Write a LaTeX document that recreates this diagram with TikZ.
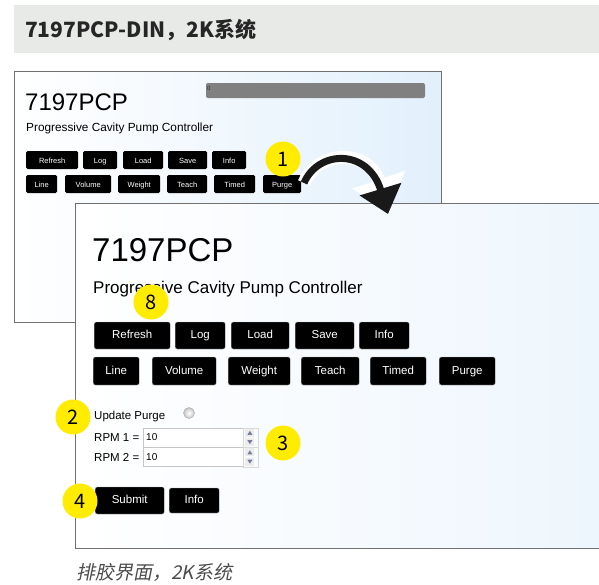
\documentclass[tikz,border=0pt]{standalone}
\usepackage{fontspec}
\setmainfont{Liberation Sans}
\newfontfamily\cjkfont{Noto Sans CJK SC}
\newfontfamily\cjkslant{Noto Sans CJK SC}[FakeSlant=0.2]
\usetikzlibrary{arrows.meta}
\definecolor{barback}{RGB}{232,234,232}
\definecolor{sky}{RGB}{226,240,252}
\definecolor{badge}{RGB}{255,236,0}
\definecolor{frame}{RGB}{112,112,112}
\definecolor{spin}{RGB}{120,125,160}

\begin{document}
\begin{tikzpicture}[x=1pt, y=-1pt]
        \tikzset{>={Triangle[length=26pt,width=42pt]}}
        \tikzset{
          win/.style={draw=frame, line width=0.8pt, left color=white, right color=sky},
          smallbtn/.style={fill=black, text=white, rounded corners=1.5pt, inner sep=0pt,
            anchor=west, minimum height=18pt, text height=1.6ex, text depth=0.3ex,
            font=\fontsize{7.5}{8}\selectfont},
          bigbtn/.style={fill=black, draw=gray!60, text=white, rounded corners=2pt, inner sep=0pt,
            anchor=west, minimum height=27pt, text height=1.6ex, text depth=0.3ex,
            font=\fontsize{11.5}{12}\selectfont},
          badgenode/.style={circle, fill=badge, minimum size=35pt, inner sep=0pt,
            font=\cjkfont\fontsize{20}{20}\selectfont},
          txt/.style={anchor=west, inner sep=0pt},
          inbox/.style={draw=gray!45, fill=white, anchor=west, minimum width=100pt,
            minimum height=19pt, inner sep=0pt}
        }
        \useasboundingbox (0,0) rectangle (599,584);

	% title bar
	\fill[barback] (14,5) rectangle (599,53);
	\node[txt, text=black!85] (title) at (25,30)
	    {\cjkfont\bfseries\fontsize{21}{21}\selectfont 7197PCP-DIN，2K系统};

	% screen behind
	\draw[win] (14,71) rectangle (441,322);
	\fill[black!50, rounded corners=2pt] (206,83) rectangle (425,98);
	\node[txt, text=black!80, font=\fontsize{6}{6}\selectfont] (bar) at (207,88) {0};
	\node[txt, font=\fontsize{24}{24}\selectfont] (bk-head) at (25,102) {7197PCP};
	\node[txt, font=\fontsize{11.8}{12}\selectfont] (bk-sub) at (26,128)
	    {Progressive Cavity Pump Controller};
	\foreach \name/\xa/\w in {Refresh/26/52, Log/83/34, Load/123/40, Save/168/39, Info/212/34} {
	    \node[smallbtn, minimum width=\w pt] (bk-\name) at (\xa,160) {\name};
	    }
	\foreach \name/\xa/\w in {Line/26/31, Volume/65/46, Weight/118/42, Teach/167/40, Timed/214/41, Purge/263/38} {
	    \node[smallbtn, minimum width=\w pt] (bk-\name) at (\xa,184) {\name};
	    }
	\node[badgenode] (n1) at (283,159) {1};

	% screen in front
	\draw[win, right color=sky!60] (75,203) rectangle (605,548);
	\node[txt, font=\fontsize{33}{33}\selectfont] (fr-head) at (92,250) {7197PCP};
	\node[txt, font=\fontsize{17}{17}\selectfont] (fr-sub) at (93,289)
	    {Progressive Cavity Pump Controller};
	\foreach \name/\xa/\w in {Refresh/94/76, Log/175/50, Load/231/58, Save/295/59, Info/359/50} {
	    \node[bigbtn, minimum width=\w pt] (fr-\name) at (\xa,335.5) {\name};
	    }
	\foreach \name/\xa/\w in {Line/93/46, Volume/152/64, Weight/228/62, Teach/301/58, Timed/370/56, Purge/439/56} {
	    \node[bigbtn, minimum width=\w pt, minimum height=28pt] (fr-\name) at (\xa,371) {\name};
	    }
	\node[badgenode] (n8) at (151,302) {8};

	% purge settings
	\node[txt, font=\fontsize{11.5}{12}\selectfont] (upd) at (94,417) {Update Purge};
	\node[circle, draw=gray!70, inner color=white, outer color=gray!45, minimum size=11pt,
	    inner sep=0pt] (radio) at (189,413) {};
	\foreach \i/\y in {1/437.5, 2/457} {
	    \node[txt, font=\fontsize{11.5}{12}\selectfont] (rpm\i) at (94,\y) {RPM \i\ =};
	    \node[inbox] (in\i) at (143,\y) {};
	    \node[txt, font=\fontsize{10}{10}\selectfont] (val\i) at ([xshift=3pt]in\i.west) {10};
	    \draw[gray!30] (in\i.north east) rectangle ([xshift=15pt]in\i.south east);
	    \fill[gray!15] ([xshift=2pt,yshift=-1pt]in\i.north east) rectangle ([xshift=11pt,yshift=-9pt]in\i.north east);
	    \fill[gray!15] ([xshift=2pt,yshift=1pt]in\i.south east) rectangle ([xshift=11pt,yshift=9pt]in\i.south east);
	    \fill[spin] ([xshift=4pt,yshift=-7pt]in\i.north east) -- ([xshift=9pt,yshift=-7pt]in\i.north east)
	        -- ([xshift=6.5pt,yshift=-3pt]in\i.north east) -- cycle;
	    \fill[spin] ([xshift=4pt,yshift=7pt]in\i.south east) -- ([xshift=9pt,yshift=7pt]in\i.south east)
	        -- ([xshift=6.5pt,yshift=3pt]in\i.south east) -- cycle;
	    }
	\node[badgenode] (n2) at (73,417) {2};
	\node[badgenode] (n3) at (283,443) {3};

	\node[bigbtn, minimum width=69pt, draw=gray!70] (submit) at (95,500.5) {Submit};
	\node[bigbtn, minimum width=50pt, minimum height=25pt] (fr-info2) at (169,500.5) {Info};
	\node[badgenode] (n4) at (80,501) {4};

	% arrow from purge to the front screen
	\coordinate (arrowfrom) at (304,183);
	\coordinate (arrowto) at (388,214);
	\draw[white, line width=13pt, -{Triangle[length=33pt,width=54pt]}]
	    (arrowfrom) .. controls (318,150) and (368,148) .. ([shift={(1pt,3pt)}]arrowto);
	\draw[black!90, line width=7pt, ->]
	    (arrowfrom) .. controls (318,150) and (368,148) .. (arrowto);

	% caption
	\node[txt, text=black!70] (caption) at (76,572)
	    {\cjkslant\fontsize{19}{19}\selectfont 排胶界面，2K系统};
\end{tikzpicture}
\end{document}
